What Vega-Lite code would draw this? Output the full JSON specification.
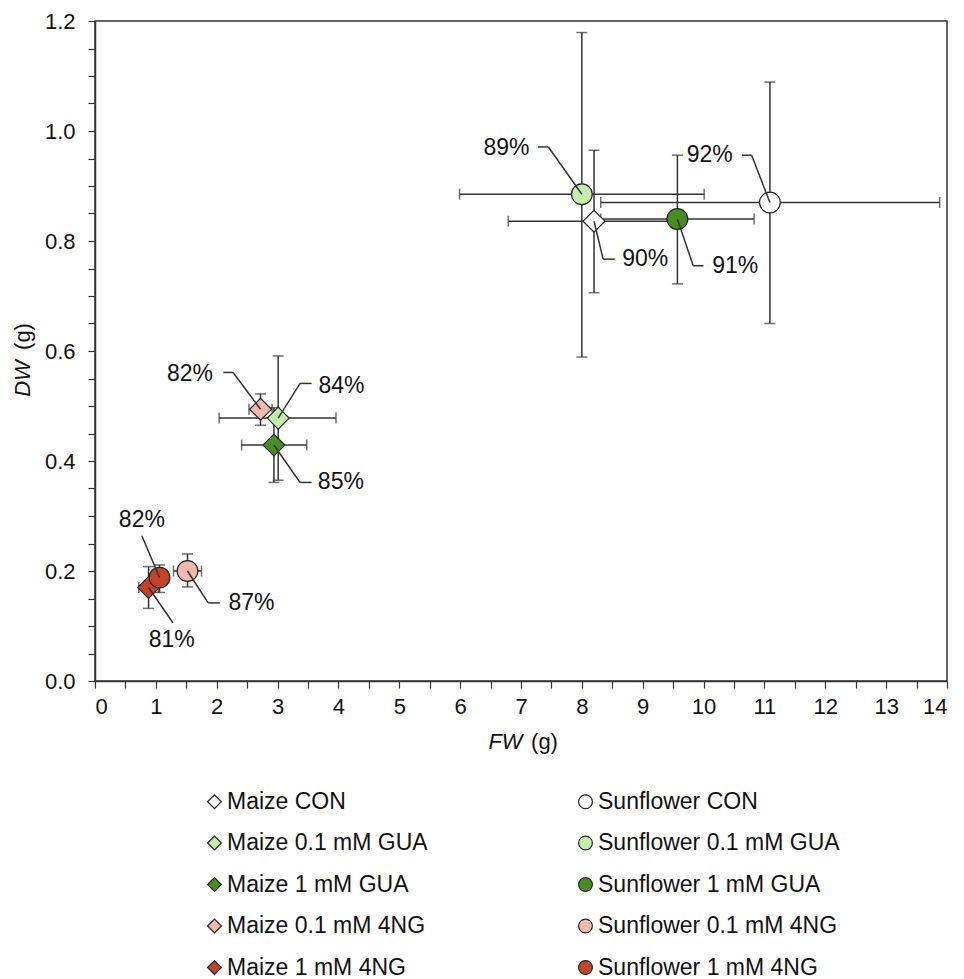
{
  "$schema": "https://vega.github.io/schema/vega-lite/v6.json",
  "autosize": {"type": "none"},
  "width": 852,
  "height": 660,
  "padding": {"left": 95, "top": 21, "right": 17, "bottom": 298},
  "background": "white",
  "config": {
    "font": "Liberation Sans",
    "view": {"stroke": "#333333", "strokeWidth": 1.5},
    "axis": {"grid": false, "domainColor": "#333333", "tickColor": "#333333", "domainWidth": 1.5, "tickWidth": 1.2, "labelFontSize": 22, "labelColor": "#111111", "titleFontSize": 22, "titleColor": "#111111", "titleFontWeight": "normal", "labelFont": "Liberation Sans", "titleFont": "Liberation Sans"},
    "legend": {"orient": "none", "legendX": 108, "legendY": 769, "columns": 2, "labelFontSize": 23, "labelFont": "Liberation Sans", "labelColor": "#111111", "symbolSize": 190, "symbolStrokeWidth": 1.2, "rowPadding": 17.5, "columnPadding": 146, "labelOffset": 1, "labelLimit": 400, "padding": 0}
  },
  "datasets": {
    "pts": [
      {"series": "Maize CON", "x": 8.2, "y": 0.836, "xlo": 6.79, "xhi": 9.61, "ylo": 0.706, "yhi": 0.965},
      {"series": "Maize 0.1 mM GUA", "x": 3.01, "y": 0.478, "xlo": 2.04, "xhi": 3.96, "ylo": 0.365, "yhi": 0.591},
      {"series": "Maize 1 mM GUA", "x": 2.94, "y": 0.429, "xlo": 2.41, "xhi": 3.48, "ylo": 0.361, "yhi": 0.497},
      {"series": "Maize 0.1 mM 4NG", "x": 2.72, "y": 0.494, "xlo": 2.53, "xhi": 2.91, "ylo": 0.465, "yhi": 0.522},
      {"series": "Maize 1 mM 4NG", "x": 0.88, "y": 0.170, "xlo": 0.72, "xhi": 1.04, "ylo": 0.132, "yhi": 0.208},
      {"series": "Sunflower CON", "x": 11.09, "y": 0.870, "xlo": 8.31, "xhi": 13.88, "ylo": 0.650, "yhi": 1.089},
      {"series": "Sunflower 0.1 mM GUA", "x": 8.0, "y": 0.885, "xlo": 5.99, "xhi": 10.01, "ylo": 0.589, "yhi": 1.179},
      {"series": "Sunflower 1 mM GUA", "x": 9.57, "y": 0.840, "xlo": 8.31, "xhi": 10.83, "ylo": 0.722, "yhi": 0.956},
      {"series": "Sunflower 0.1 mM 4NG", "x": 1.52, "y": 0.200, "xlo": 1.29, "xhi": 1.75, "ylo": 0.171, "yhi": 0.231},
      {"series": "Sunflower 1 mM 4NG", "x": 1.06, "y": 0.188, "xlo": 0.95, "xhi": 1.17, "ylo": 0.161, "yhi": 0.211}
    ],
    "leaders": [
      {"x": 7.28, "y": 0.971, "x2": 7.45, "y2": 0.971},
      {"x": 7.45, "y": 0.971, "x2": 8.0, "y2": 0.885},
      {"x": 10.63, "y": 0.956, "x2": 10.79, "y2": 0.956},
      {"x": 10.79, "y": 0.956, "x2": 11.09, "y2": 0.870},
      {"x": 8.2, "y": 0.836, "x2": 8.35, "y2": 0.767},
      {"x": 8.35, "y": 0.767, "x2": 8.54, "y2": 0.767},
      {"x": 9.57, "y": 0.84, "x2": 9.83, "y2": 0.755},
      {"x": 9.83, "y": 0.755, "x2": 10.0, "y2": 0.755},
      {"x": 2.11, "y": 0.561, "x2": 2.27, "y2": 0.561},
      {"x": 2.27, "y": 0.561, "x2": 2.72, "y2": 0.494},
      {"x": 3.56, "y": 0.541, "x2": 3.37, "y2": 0.541},
      {"x": 3.37, "y": 0.541, "x2": 3.01, "y2": 0.478},
      {"x": 2.94, "y": 0.429, "x2": 3.37, "y2": 0.361},
      {"x": 3.37, "y": 0.361, "x2": 3.56, "y2": 0.361},
      {"x": 0.77, "y": 0.264, "x2": 1.06, "y2": 0.188},
      {"x": 1.28, "y": 0.106, "x2": 0.88, "y2": 0.170},
      {"x": 1.52, "y": 0.200, "x2": 1.86, "y2": 0.142},
      {"x": 1.86, "y": 0.142, "x2": 2.05, "y2": 0.142}
    ],
    "labels": [
      {"text": "89%", "x": 6.76, "y": 0.969},
      {"text": "92%", "x": 10.1, "y": 0.956},
      {"text": "90%", "x": 9.04, "y": 0.767},
      {"text": "91%", "x": 10.52, "y": 0.755},
      {"text": "82%", "x": 1.56, "y": 0.559},
      {"text": "84%", "x": 4.05, "y": 0.536},
      {"text": "85%", "x": 4.04, "y": 0.361},
      {"text": "82%", "x": 0.77, "y": 0.293},
      {"text": "81%", "x": 1.26, "y": 0.0745},
      {"text": "87%", "x": 2.57, "y": 0.142}
    ]
  },
  "resolve": {"axis": {"x": "independent", "y": "independent"}},
  "layer": [
    {
      "data": {"name": "pts"},
      "mark": {"type": "rule", "color": "#333333", "strokeWidth": 1.5},
      "encoding": {
        "x": {"field": "xlo", "type": "quantitative", "scale": {"domain": [0, 14], "nice": false, "zero": false},
          "axis": {"orient": "bottom", "values": [0,0.5,1,1.5,2,2.5,3,3.5,4,4.5,5,5.5,6,6.5,7,7.5,8,8.5,9,9.5,10,10.5,11,11.5,12,12.5,13,13.5,14], "labelExpr": "datum.value % 1 == 0 ? format(datum.value, 'd') : ''", "tickSize": 7, "labelPadding": 8, "title": "FW", "titleFontStyle": "italic", "titleX": 410, "titleY": 60, "titleAlign": "center", "titleBaseline": "middle", "titleAnchor": null}},
        "x2": {"field": "xhi"},
        "y": {"field": "y", "type": "quantitative", "scale": {"domain": [0, 1.2], "nice": false, "zero": false},
          "axis": {"orient": "left", "values": [0,0.05,0.1,0.15,0.2,0.25,0.3,0.35,0.4,0.45,0.5,0.55,0.6,0.65,0.7,0.75,0.8,0.85,0.9,0.95,1.0,1.05,1.1,1.15,1.2], "labelExpr": "round(datum.value*100) % 20 == 0 ? format(datum.value, '.1f') : ''", "tickSize": 7, "labelPadding": 13, "title": "DW", "titleFontStyle": "italic", "titleX": -73, "titleY": 357, "titleAlign": "center", "titleBaseline": "middle", "titleAngle": 270, "titleAnchor": null}}
      }
    },
    {
      "data": {"name": "pts"},
      "mark": {"type": "rule", "color": "#333333", "strokeWidth": 1.5},
      "encoding": {
        "x": {"field": "x", "type": "quantitative",
          "axis": {"orient": "bottom", "domain": false, "ticks": false, "labels": false, "title": "(g)", "titleX": 449, "titleY": 60, "titleAlign": "center", "titleBaseline": "middle", "titleAnchor": null}},
        "y": {"field": "ylo", "type": "quantitative",
          "axis": {"orient": "left", "domain": false, "ticks": false, "labels": false, "title": "(g)", "titleX": -73, "titleY": 315, "titleAlign": "center", "titleBaseline": "middle", "titleAngle": 270, "titleAnchor": null}},
        "y2": {"field": "yhi"}
      }
    },
    {
      "data": {"name": "pts"},
      "mark": {"type": "tick", "orient": "vertical", "color": "#333333", "size": 11, "thickness": 1.5},
      "encoding": {
        "x": {"field": "xlo", "type": "quantitative", "axis": null},
        "y": {"field": "y", "type": "quantitative", "axis": null}
      }
    },
    {
      "data": {"name": "pts"},
      "mark": {"type": "tick", "orient": "vertical", "color": "#333333", "size": 11, "thickness": 1.5},
      "encoding": {
        "x": {"field": "xhi", "type": "quantitative", "axis": null},
        "y": {"field": "y", "type": "quantitative", "axis": null}
      }
    },
    {
      "data": {"name": "pts"},
      "mark": {"type": "tick", "orient": "horizontal", "color": "#333333", "size": 11, "thickness": 1.5},
      "encoding": {
        "x": {"field": "x", "type": "quantitative", "axis": null},
        "y": {"field": "ylo", "type": "quantitative", "axis": null}
      }
    },
    {
      "data": {"name": "pts"},
      "mark": {"type": "tick", "orient": "horizontal", "color": "#333333", "size": 11, "thickness": 1.5},
      "encoding": {
        "x": {"field": "x", "type": "quantitative", "axis": null},
        "y": {"field": "yhi", "type": "quantitative", "axis": null}
      }
    },
    {
      "data": {"name": "pts"},
      "mark": {"type": "point", "filled": true, "strokeWidth": 1.2, "opacity": 1, "size": 480},
      "encoding": {
        "x": {"field": "x", "type": "quantitative", "axis": null},
        "y": {"field": "y", "type": "quantitative", "axis": null},
        "shape": {"field": "series", "type": "nominal",
          "scale": {"domain": ["Maize CON", "Maize 0.1 mM GUA", "Maize 1 mM GUA", "Maize 0.1 mM 4NG", "Maize 1 mM 4NG", "Sunflower CON", "Sunflower 0.1 mM GUA", "Sunflower 1 mM GUA", "Sunflower 0.1 mM 4NG", "Sunflower 1 mM 4NG"],
            "range": ["diamond", "diamond", "diamond", "diamond", "diamond", "circle", "circle", "circle", "circle", "circle"]},
          "legend": {"title": null}},
        "fill": {"field": "series", "type": "nominal",
          "scale": {"domain": ["Maize CON", "Maize 0.1 mM GUA", "Maize 1 mM GUA", "Maize 0.1 mM 4NG", "Maize 1 mM 4NG", "Sunflower CON", "Sunflower 0.1 mM GUA", "Sunflower 1 mM GUA", "Sunflower 0.1 mM 4NG", "Sunflower 1 mM 4NG"],
            "range": ["#ffffff", "#c4eeab", "#4a8c1f", "#f3b8ae", "#c4432b", "#ffffff", "#c4eeab", "#4a8c1f", "#f3b8ae", "#c4432b"]},
          "legend": {"title": null}},
        "stroke": {"field": "series", "type": "nominal",
          "scale": {"domain": ["Maize CON", "Maize 0.1 mM GUA", "Maize 1 mM GUA", "Maize 0.1 mM 4NG", "Maize 1 mM 4NG", "Sunflower CON", "Sunflower 0.1 mM GUA", "Sunflower 1 mM GUA", "Sunflower 0.1 mM 4NG", "Sunflower 1 mM 4NG"],
            "range": ["#222222", "#222222", "#222222", "#222222", "#222222", "#222222", "#222222", "#222222", "#222222", "#222222"]},
          "legend": {"title": null}},
        "size": {"condition": {"test": "indexof(datum.series, 'Sunflower') == 0", "value": 430}, "value": 480}
      }
    },
    {
      "data": {"name": "leaders"},
      "mark": {"type": "rule", "color": "#333333", "strokeWidth": 1.5},
      "encoding": {
        "x": {"field": "x", "type": "quantitative", "axis": null},
        "y": {"field": "y", "type": "quantitative", "axis": null},
        "x2": {"field": "x2"},
        "y2": {"field": "y2"}
      }
    },
    {
      "data": {"name": "labels"},
      "mark": {"type": "text", "fontSize": 23, "font": "Liberation Sans", "color": "#111111", "align": "center", "baseline": "middle"},
      "encoding": {
        "x": {"field": "x", "type": "quantitative", "axis": null},
        "y": {"field": "y", "type": "quantitative", "axis": null},
        "text": {"field": "text"}
      }
    }
  ]
}
